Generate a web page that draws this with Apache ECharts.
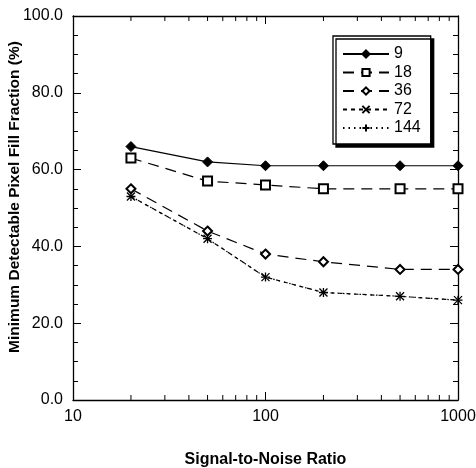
<!DOCTYPE html>
<html>
<head>
<meta charset="utf-8">
<title>Minimum Detectable Pixel Fill Fraction</title>
<script src="https://cdn.jsdelivr.net/npm/echarts@6/dist/echarts.min.js"></script>
<style>
  html, body { margin: 0; padding: 0; background: #fff; }
  #chart { width: 476px; height: 468px; }
</style>
</head>
<body>
<div id="chart"></div>
<script>
// Signal-to-noise ratios at which each curve was sampled
var snr = [20, 50, 100, 200, 500, 1000];

// Series names (legend entries)
var seriesNames = ['9', '18', '36', '72', '144'];

// Minimum detectable pixel fill fraction (%) per series
var fill9   = [66, 62, 61, 61, 61, 61];
var fill18  = [63, 57, 56, 55, 55, 55];
var fill36  = [55, 44, 38, 36, 34, 34];
var fill72  = [53, 42, 32, 28, 27, 26];
var fill144 = [53, 42, 32, 28, 27, 26];

// Axis ranges and tick values
var xRange = [10, 1000];
var yRange = [0, 100];
var yStep = 20;
var xMinorTicks = [20, 30, 40, 50, 60, 70, 80, 90, 200, 300, 400, 500, 600, 700, 800, 900];

var FONT = '"Liberation Sans", Arial, sans-serif';
var INK = '#000';

function pairs(ys) {
  return snr.map(function (x, i) { return [x, ys[i]]; });
}

var styles = [
  { data: fill9,   symbol: 'diamond',      size: 10, dash: 'solid' },
  { data: fill18,  symbol: 'emptyRect',    size: 9,  dash: [11, 7] },
  { data: fill36,  symbol: 'emptyDiamond', size: 9,  dash: [11, 7] },
  { data: fill72,  symbol: 'path://M0,0L10,10M0,10L10,0', size: 8, dash: [4, 4] },
  { data: fill144, symbol: 'path://M5,0L5,10M0,5L10,5',   size: 9, dash: [1.5, 4] }
];

var lineSeries = styles.map(function (s, i) {
  var isPath = s.symbol.indexOf('path://') === 0;
  return {
    name: seriesNames[i],
    type: 'line',
    data: pairs(s.data),
    symbol: s.symbol,
    symbolSize: s.size,
    showSymbol: true,
    z: 3,
    lineStyle: { color: INK, width: 1.2, type: s.dash },
    itemStyle: isPath
      ? { color: 'rgba(0,0,0,0)', borderColor: INK, borderWidth: 1.3 }
      : { color: INK, borderColor: INK, borderWidth: 1 },
    emphasis: { disabled: true },
    animation: false
  };
});

// Minor ticks at 2..9 of each decade on the bottom and top log axes
var minorTickSeries = {
  type: 'custom',
  name: 'minorTicks',
  silent: true,
  clip: false,
  data: xMinorTicks.map(function (v) { return [v]; }),
  renderItem: function (params, api) {
    var v = api.value(0);
    var b = api.coord([v, yRange[0]]);
    var t = api.coord([v, yRange[1]]);
    var st = { stroke: INK, lineWidth: 1 };
    return {
      type: 'group',
      children: [
        { type: 'line', shape: { x1: b[0], y1: b[1], x2: b[0], y2: b[1] - 5 }, style: st },
        { type: 'line', shape: { x1: t[0], y1: t[1], x2: t[0], y2: t[1] + 5 }, style: st }
      ]
    };
  },
  animation: false
};

var chart = echarts.init(document.getElementById('chart'), null, { renderer: 'canvas' });

var axisLine = { show: true, onZero: false, lineStyle: { color: INK, width: 1.3 } };

chart.setOption({
  backgroundColor: '#fff',
  animation: false,
  textStyle: { fontFamily: FONT, color: INK },
  grid: { left: 73, right: 18, top: 16, bottom: 68, containLabel: false, outerBoundsMode: 'none' },
  legend: {
    data: seriesNames,
    orient: 'vertical',
    left: 333,
    top: 36,
    padding: [10, 10, 8, 9],
    itemWidth: 46,
    itemHeight: 9,
    itemGap: 2.5,
    backgroundColor: '#fff',
    borderColor: INK,
    borderWidth: 1.3,
    borderRadius: 0,
    shadowColor: INK,
    shadowBlur: 0,
    shadowOffsetX: 3,
    shadowOffsetY: 3,
    selectedMode: false,
    textStyle: { fontFamily: FONT, fontSize: 16, color: INK, padding: [0, 0, 0, 0] }
  },
  xAxis: [
    {
      type: 'log',
      logBase: 10,
      min: xRange[0],
      max: xRange[1],
      position: 'bottom',
      name: 'Signal-to-Noise Ratio',
      nameLocation: 'middle',
      nameGap: 52,
      nameMoveOverlap: false,
      nameTextStyle: { fontFamily: FONT, fontSize: 16, fontWeight: 'bold', color: INK },
      axisLine: axisLine,
      axisTick: { show: true, inside: true, length: 8, lineStyle: { color: INK } },
      minorTick: { show: false },
      splitLine: { show: false },
      axisLabel: {
        fontFamily: FONT, fontSize: 16, color: INK, margin: 9,
        formatter: function (v) { return String(Math.round(v)); }
      }
    },
    {
      type: 'log',
      logBase: 10,
      min: xRange[0],
      max: xRange[1],
      position: 'top',
      axisLine: axisLine,
      axisTick: { show: true, inside: true, length: 8, lineStyle: { color: INK } },
      splitLine: { show: false },
      axisLabel: { show: false }
    }
  ],
  yAxis: [
    {
      type: 'value',
      min: yRange[0],
      max: yRange[1],
      interval: yStep,
      position: 'left',
      name: 'Minimum Detectable Pixel Fill Fraction (%)',
      nameLocation: 'middle',
      nameGap: 50,
      nameMoveOverlap: false,
      nameRotate: 90,
      nameTextStyle: { fontFamily: FONT, fontSize: 15.5, fontWeight: 'bold', color: INK, padding: [0, 0, 0, 22] },
      axisLine: axisLine,
      axisTick: { show: true, inside: true, length: 8, lineStyle: { color: INK } },
      minorTick: { show: true, splitNumber: 4, length: 5, lineStyle: { color: INK } },
      splitLine: { show: false },
      axisLabel: {
        fontFamily: FONT, fontSize: 16, color: INK, margin: 10,
        formatter: function (v) { return v.toFixed(1); }
      }
    },
    {
      type: 'value',
      min: yRange[0],
      max: yRange[1],
      interval: yStep,
      position: 'right',
      axisLine: axisLine,
      axisTick: { show: true, inside: true, length: 8, lineStyle: { color: INK } },
      minorTick: { show: true, splitNumber: 4, length: 5, lineStyle: { color: INK } },
      splitLine: { show: false },
      axisLabel: { show: false }
    }
  ],
  series: lineSeries.concat([minorTickSeries])
});
</script>
</body>
</html>
